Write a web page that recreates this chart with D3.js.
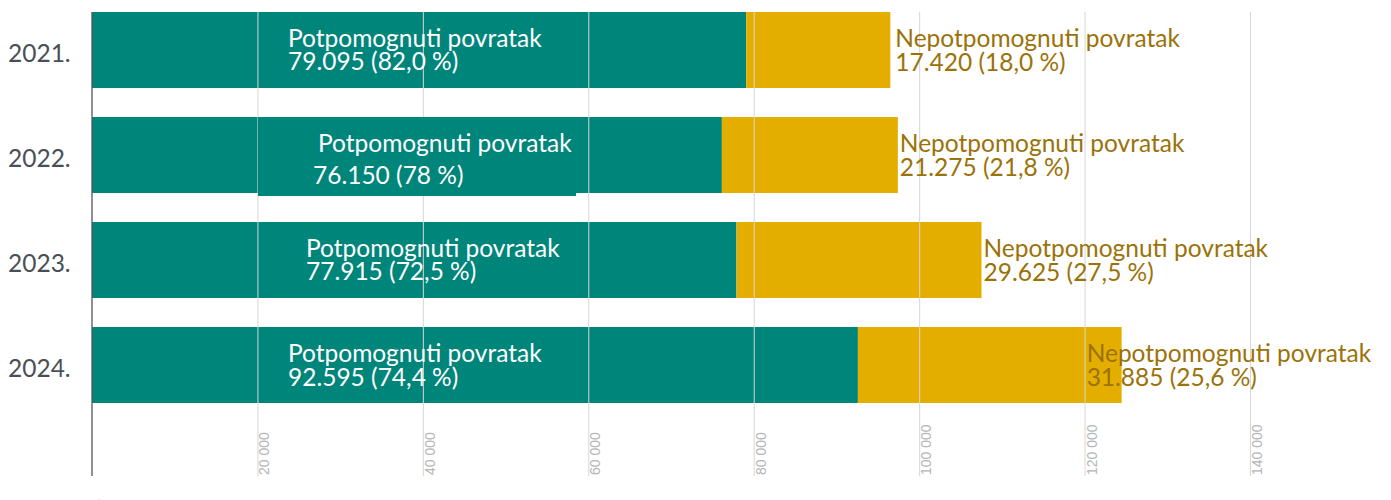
<!DOCTYPE html>
<html>
<head>
<meta charset="utf-8">
<script src="https://cdn.jsdelivr.net/npm/d3@7"></script>
<style>
  html, body { margin: 0; padding: 0; background: #fff; }
  svg { display: block; }
</style>
</head>
<body>
<svg id="chart" width="1391" height="500"></svg>
<script>
// Godine i broj povrataka (potpomognuti / nepotpomognuti)
const years = ["2021.", "2022.", "2023.", "2024."];
const assisted = [79095, 76150, 77915, 92595];
const unassisted = [17420, 21275, 29625, 31885];
const assistedPct = ["82,0", "78", "72,5", "74,4"];
const unassistedPct = ["18,0", "21,8", "27,5", "25,6"];
const tickValues = [0, 20000, 40000, 60000, 80000, 100000, 120000, 140000];

// Label placement tweaks per year (pixels)
const assistedLabelDx = [196, 226, 214, 196];
const assistedLabelDx2 = [196, 221, 214, 196];
const assistedLabelLine2 = [23, 32, 23, 24];
const unassistedLabelDx = [5, 2, 2, -35];

const TEAL = "#00857a";
const GOLD = "#e3ae00";
const GOLD_TEXT = "#9b7208";
const LABEL_FONT = "Lato, 'Open Sans', sans-serif";

const svg = d3.select("#chart");
const x = d3.scaleLinear().domain([0, 140000]).range([92, 1250]);
const y = d3.scaleBand().domain(years).range([12, 403]).paddingInner(0.276).paddingOuter(0);

const rows = years.map((yr, i) => ({
  yr, i,
  a: assisted[i], u: unassisted[i],
  aPct: assistedPct[i], uPct: unassistedPct[i]
}));

// Stacked bars
svg.append("g").selectAll("rect").data(rows).join("rect")
  .attr("x", x(0)).attr("y", d => y(d.yr))
  .attr("width", d => x(d.a) - x(0)).attr("height", y.bandwidth())
  .attr("fill", TEAL);
svg.append("g").selectAll("rect").data(rows).join("rect")
  .attr("x", d => x(d.a)).attr("y", d => y(d.yr))
  .attr("width", d => x(d.a + d.u) - x(d.a)).attr("height", y.bandwidth())
  .attr("fill", GOLD);

// Vertical grid with rotated tick labels
const gridAxis = d3.axisBottom(x).tickValues(tickValues.slice(1))
  .tickSize(-(476 - 12)).tickFormat("");
svg.append("g").attr("transform", "translate(0,476)").call(gridAxis)
  .call(g => g.select(".domain").remove())
  .call(g => g.selectAll("line").attr("stroke", "#d6d6d6").attr("stroke-width", 1));

const fmt = v => d3.format(",")(v).replace(/,/g, " ");
svg.append("g").selectAll("text").data(tickValues).join("text")
  .attr("transform", d => `translate(${x(d) + 12},${d === 0 ? 507 : 475}) rotate(-90)`)
  .attr("font-family", "'Liberation Sans Narrow', 'Liberation Sans', Arial, sans-serif")
  .attr("font-size", 14)
  .attr("fill", "#b5b5b5")
  .text(fmt);

// Label background box for 2022
const r22 = rows[1];
svg.append("rect")
  .attr("x", x(0) + 166).attr("y", y(r22.yr))
  .attr("width", 318).attr("height", y.bandwidth() + 3)
  .attr("fill", TEAL);

// Left axis line
svg.append("line").attr("x1", x(0)).attr("x2", x(0)).attr("y1", 12).attr("y2", 476)
  .attr("stroke", "#555").attr("stroke-width", 1.3);

// Year labels
svg.append("g").selectAll("text").data(rows).join("text")
  .attr("x", 8).attr("y", d => y(d.yr) + y.bandwidth() / 2 + 12)
  .attr("font-family", LABEL_FONT).attr("font-size", 24.5)
  .attr("fill", "#4a4f57").text(d => d.yr);

// Assisted labels (white, inside teal bars)
const aLab = svg.append("g").selectAll("text").data(rows).join("text")
  .attr("font-family", LABEL_FONT).attr("font-size", 24.5).attr("fill", "#fff");
aLab.append("tspan")
  .attr("x", d => x(0) + assistedLabelDx[d.i]).attr("y", d => y(d.yr) + 35)
  .text("Potpomognuti povratak");
aLab.append("tspan")
  .attr("x", d => x(0) + assistedLabelDx2[d.i]).attr("y", d => y(d.yr) + 35 + assistedLabelLine2[d.i])
  .text(d => `${d3.format(",")(d.a).replace(",", ".")} (${d.aPct} %)`);

// Unassisted labels (gold, right of the bars)
const uLab = svg.append("g").selectAll("text").data(rows).join("text")
  .attr("font-family", LABEL_FONT).attr("font-size", 24.5).attr("fill", GOLD_TEXT);
uLab.append("tspan")
  .attr("x", d => x(d.a + d.u) + unassistedLabelDx[d.i]).attr("y", d => y(d.yr) + 35)
  .text("Nepotpomognuti povratak");
uLab.append("tspan")
  .attr("x", d => x(d.a + d.u) + unassistedLabelDx[d.i]).attr("y", d => y(d.yr) + 59)
  .text(d => `${d3.format(",")(d.u).replace(",", ".")} (${d.uPct} %)`);
</script>
</body>
</html>
